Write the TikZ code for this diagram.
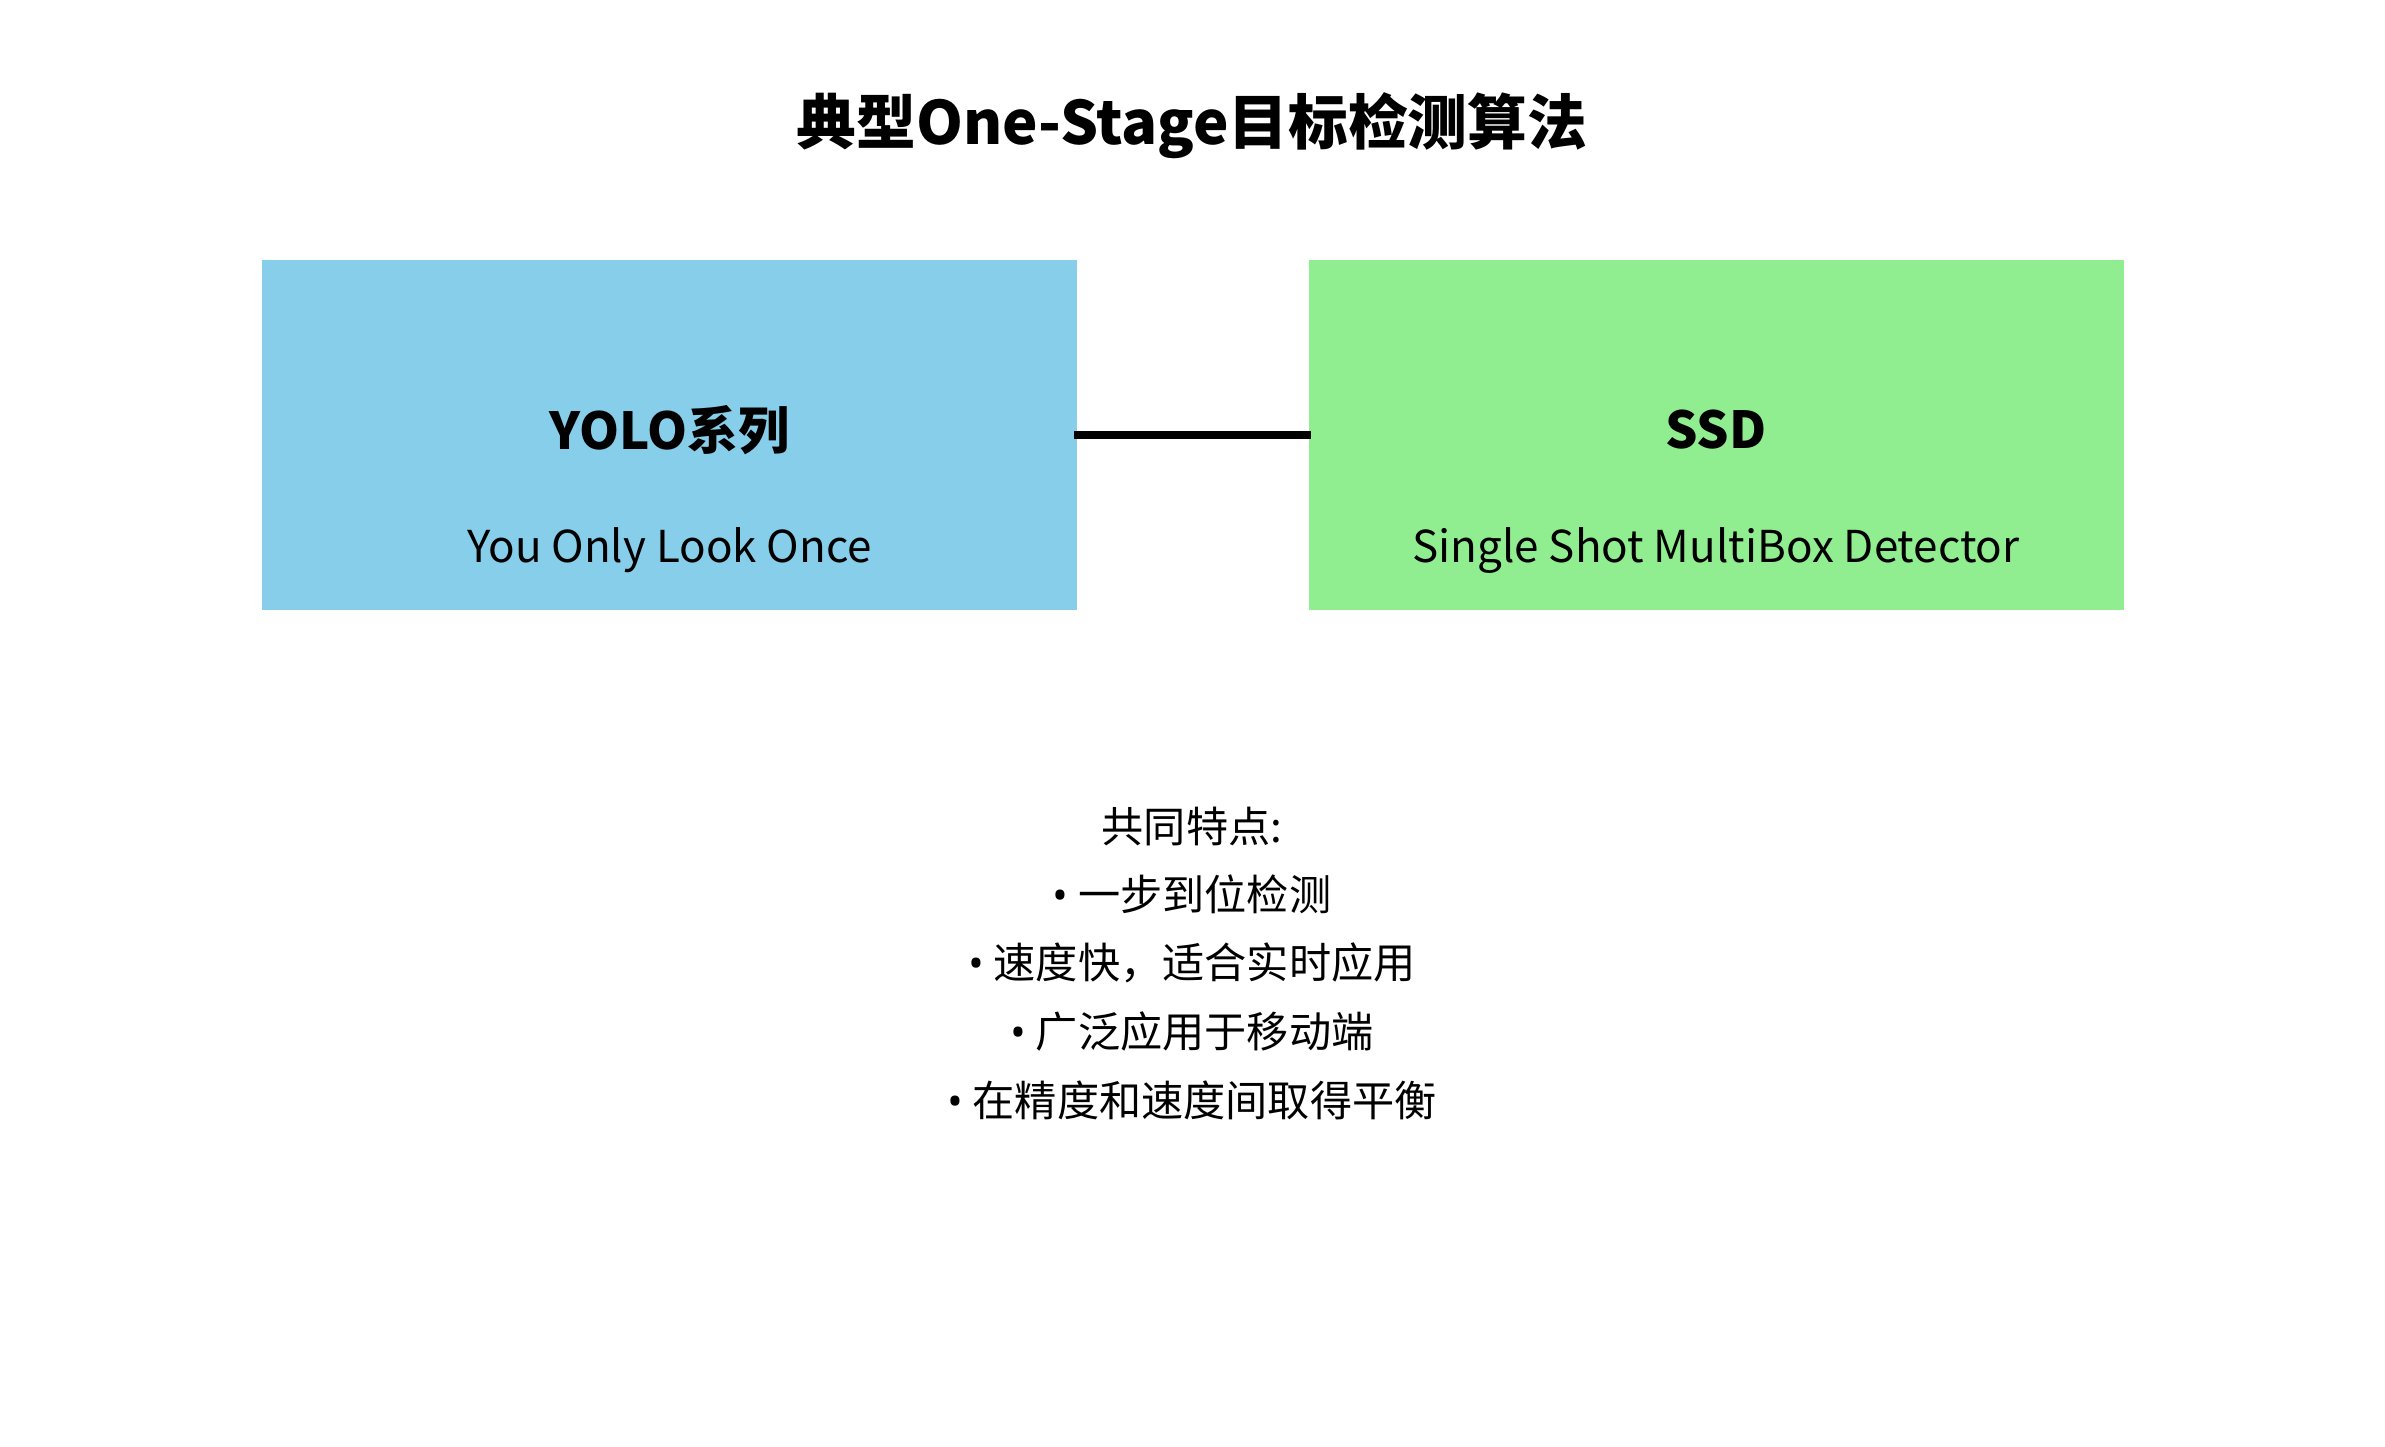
\documentclass[tikz,border=0pt]{standalone}
\usepackage{fontspec}
\setmainfont{Noto Sans CJK SC}
\newfontfamily\dotfont{Open Sans}
\usepackage{tikz}
\usetikzlibrary{positioning}
\definecolor{yolocol}{RGB}{135,206,235}
\definecolor{ssdcol}{RGB}{144,238,144}
\newcommand{\pt}{{\dotfont •} }

\begin{document}
\begin{tikzpicture}[
  panel/.style={rectangle,minimum width=8.15cm,minimum height=3.5cm,inner sep=0pt},
  head/.style={font=\fontsize{14.5}{17}\selectfont\bfseries},
  sub/.style={font=\fontsize{12.5}{15}\selectfont},
  feat/.style={font=\fontsize{12}{14}\selectfont},
  link/.style={line width=2.2pt,shorten <=-1pt,shorten >=-1pt}
]
\useasboundingbox (0,0) rectangle (23.85,-14.46);
\node[font=\fontsize{17}{21}\selectfont\bfseries] (title) at (11.92,-1.26) {典型One-Stage目标检测算法};

\node[panel,fill=yolocol] (yolo) at (6.695,-4.35) {};
\node[panel,fill=ssdcol] (ssd) at (17.16,-4.35) {};
\draw[link] (yolo.east)--(ssd.west);

\node[head] (yolohead) at (6.695,-4.30) {YOLO系列};
\node[sub] (yolosub) at (6.695,-5.50) {You Only Look Once};
\node[head] (ssdhead) at (17.16,-4.30) {SSD};
\node[sub] (ssdsub) at (17.16,-5.50) {Single Shot MultiBox Detector};

\node[feat] (common) at (11.92,-8.26) {共同特点:};
\node[feat] (f1) at (11.92,-8.94) {\pt 一步到位检测};
\node[feat] (f2) at (11.92,-9.63) {\pt 速度快，适合实时应用};
\node[feat] (f3) at (11.92,-10.31) {\pt 广泛应用于移动端};
\node[feat] (f4) at (11.92,-11.00) {\pt 在精度和速度间取得平衡};
\end{tikzpicture}
\end{document}
